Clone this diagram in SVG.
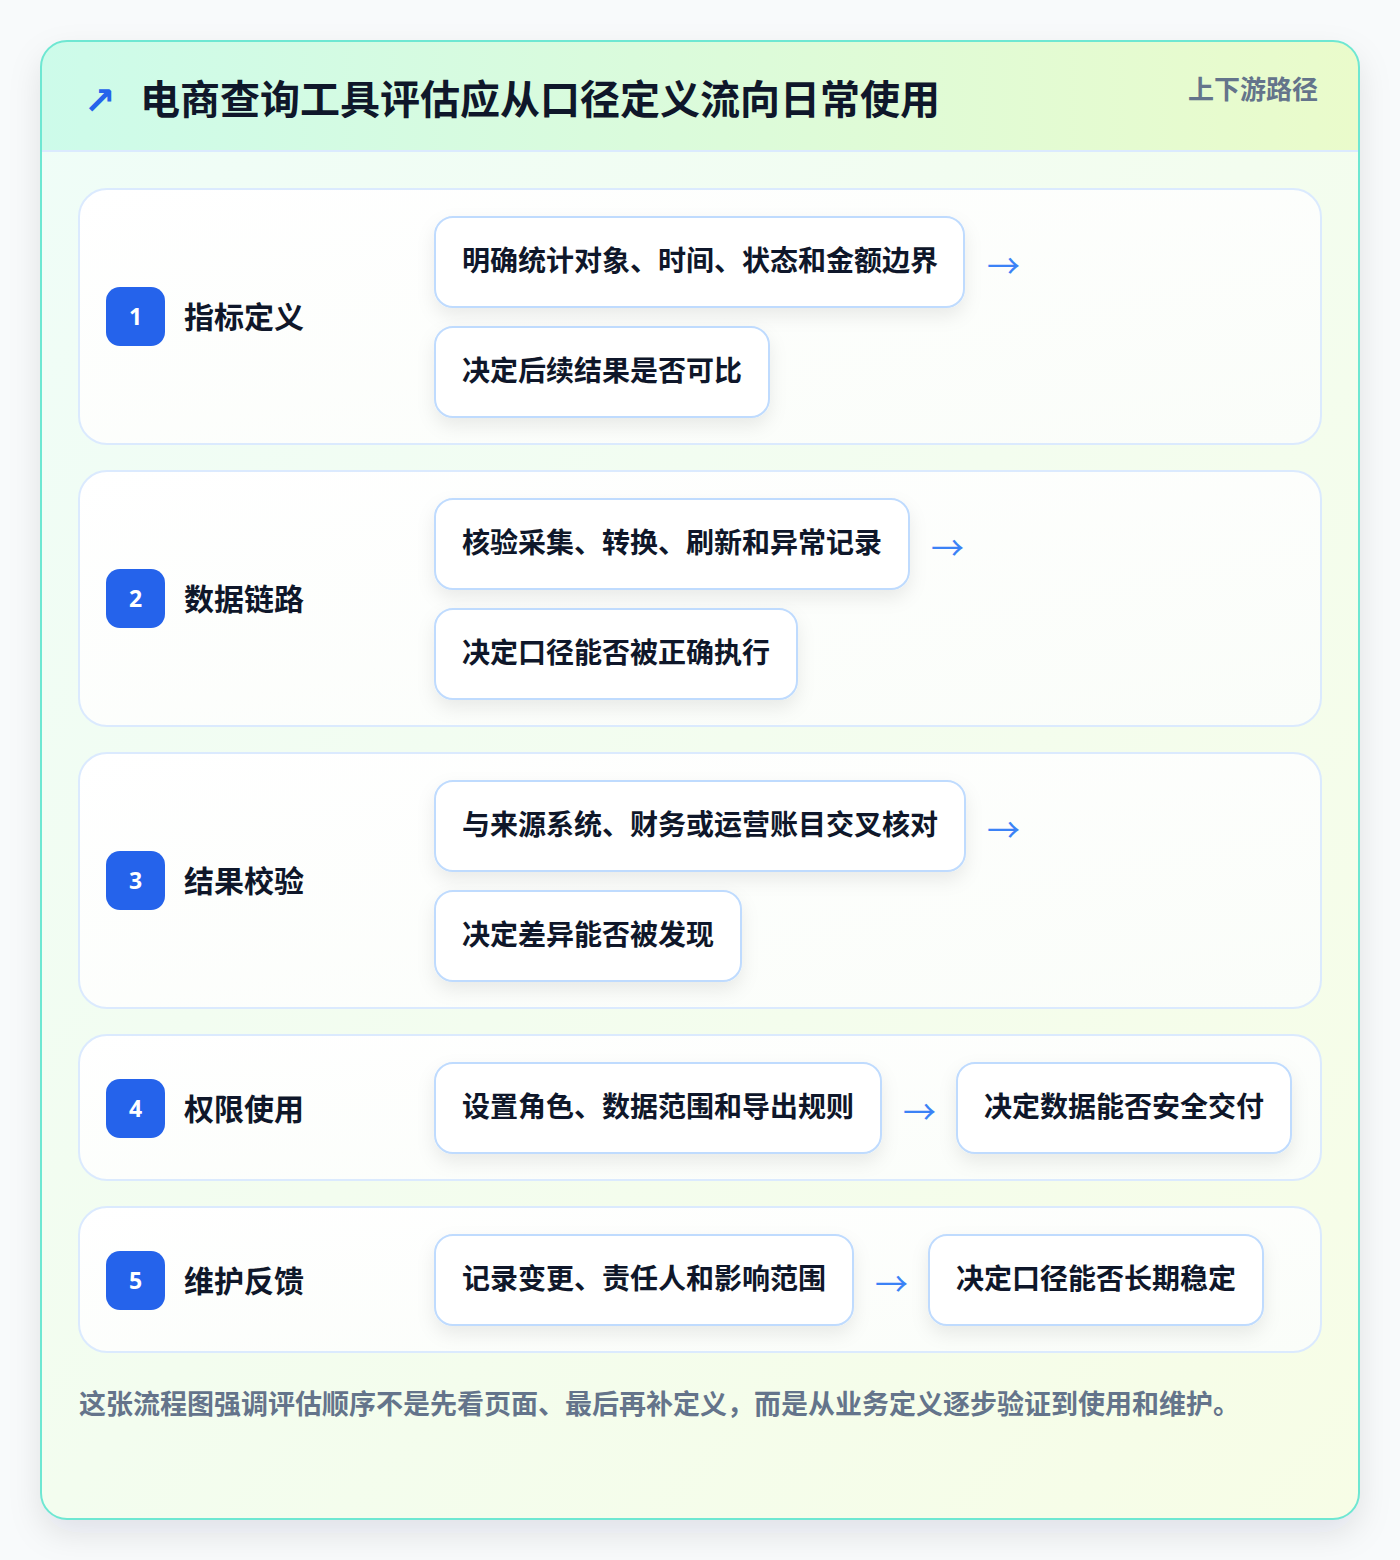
<svg xmlns="http://www.w3.org/2000/svg" width="1400" height="1560" viewBox="0 0 1400 1560">
<style>
.t{font-family:"Noto Sans CJK SC","Noto Sans",sans-serif;font-weight:700;fill:#0f172a}
.pill{fill:#ffffff;stroke:#bfdbfe;stroke-width:2}
.row{fill:url(#rowg);stroke:#dbeafe;stroke-width:2}
.badge{fill:#2563eb}
.num{font-family:"Noto Sans","Liberation Sans",sans-serif;font-weight:700;font-size:23px;fill:#ffffff}
.pt{font-size:28px}
.lbl{font-size:30px}
.arr{font-family:"Noto Sans CJK SC",sans-serif;font-size:33px;fill:#3b82f6}
</style>
<defs>
<linearGradient id="bg" x1="0" y1="0" x2="1" y2="1">
<stop offset="0" stop-color="#effdf8"/><stop offset="1" stop-color="#f7fde6"/>
</linearGradient>
<linearGradient id="hd" x1="0" y1="0" x2="1" y2="0">
<stop offset="0" stop-color="#cdfbea"/><stop offset="1" stop-color="#eafbcb"/>
</linearGradient>
<linearGradient id="rowg" x1="0" y1="0" x2="1" y2="1">
<stop offset="0" stop-color="#ffffff"/><stop offset="1" stop-color="#fafdf9"/>
</linearGradient>
<filter id="cs" x="-10%" y="-10%" width="120%" height="120%">
<feDropShadow dx="0" dy="14" stdDeviation="16" flood-color="#0f172a" flood-opacity="0.10"/>
</filter>
<filter id="ps" x="-20%" y="-30%" width="140%" height="180%">
<feDropShadow dx="0" dy="8" stdDeviation="9" flood-color="#0f172a" flood-opacity="0.08"/>
</filter>
<clipPath id="cc"><rect x="41" y="41" width="1318" height="1478" rx="26"/></clipPath>
</defs>
<rect width="1400" height="1560" fill="#f8fafb"/>
<g id="card">
<rect x="41" y="41" width="1318" height="1478" rx="26" fill="url(#bg)" filter="url(#cs)"/>
<g clip-path="url(#cc)">
<rect x="41" y="41" width="1318" height="110" fill="url(#hd)"/>
<line x1="41" y1="151" x2="1359" y2="151" stroke="#dbeafe" stroke-width="2"/>
</g>
<rect x="41" y="41" width="1318" height="1478" rx="26" fill="none" stroke="#6ee7d2" stroke-width="2"/>
<text x="84" y="114" font-family="DejaVu Sans,sans-serif" font-weight="700" font-size="38" fill="#2563eb">↗</text>
<text class="t" x="140" y="114" font-size="40">电商查询工具评估应从口径定义流向日常使用</text>
<text class="t" x="1318" y="99" font-size="26" text-anchor="end" style="fill:#64748b">上下游路径</text>
</g>
<g id="row1">
<rect class="row" x="79" y="189" width="1242" height="255" rx="28"/>
<rect class="badge" x="106" y="287" width="59" height="59" rx="14"/>
<text class="num" x="135.5" y="325" text-anchor="middle">1</text>
<text class="t lbl" x="184" y="328">指标定义</text>
</g>
<g id="row2">
<rect class="row" x="79" y="471" width="1242" height="255" rx="28"/>
<rect class="badge" x="106" y="569" width="59" height="59" rx="14"/>
<text class="num" x="135.5" y="607" text-anchor="middle">2</text>
<text class="t lbl" x="184" y="610">数据链路</text>
</g>
<g id="row3">
<rect class="row" x="79" y="753" width="1242" height="255" rx="28"/>
<rect class="badge" x="106" y="851" width="59" height="59" rx="14"/>
<text class="num" x="135.5" y="889" text-anchor="middle">3</text>
<text class="t lbl" x="184" y="892">结果校验</text>
</g>
<g id="row4">
<rect class="row" x="79" y="1035" width="1242" height="145" rx="28"/>
<rect class="badge" x="106" y="1079" width="59" height="59" rx="14"/>
<text class="num" x="135.5" y="1117" text-anchor="middle">4</text>
<text class="t lbl" x="184" y="1120">权限使用</text>
</g>
<g id="row5">
<rect class="row" x="79" y="1207" width="1242" height="145" rx="28"/>
<rect class="badge" x="106" y="1251" width="59" height="59" rx="14"/>
<text class="num" x="135.5" y="1289" text-anchor="middle">5</text>
<text class="t lbl" x="184" y="1292">维护反馈</text>
</g>
<g id="n1a"><rect class="pill" x="435" y="217" width="529" height="90" rx="18" filter="url(#ps)"/><text class="t pt" x="462" y="271">明确统计对象、时间、状态和金额边界</text></g>
<g id="n1b"><rect class="pill" x="435" y="327" width="334" height="90" rx="18" filter="url(#ps)"/><text class="t pt" x="462" y="381">决定后续结果是否可比</text></g>
<g id="n2a"><rect class="pill" x="435" y="499" width="474" height="90" rx="18" filter="url(#ps)"/><text class="t pt" x="462" y="553">核验采集、转换、刷新和异常记录</text></g>
<g id="n2b"><rect class="pill" x="435" y="609" width="362" height="90" rx="18" filter="url(#ps)"/><text class="t pt" x="462" y="663">决定口径能否被正确执行</text></g>
<g id="n3a"><rect class="pill" x="435" y="781" width="530" height="90" rx="18" filter="url(#ps)"/><text class="t pt" x="462" y="835">与来源系统、财务或运营账目交叉核对</text></g>
<g id="n3b"><rect class="pill" x="435" y="891" width="306" height="90" rx="18" filter="url(#ps)"/><text class="t pt" x="462" y="945">决定差异能否被发现</text></g>
<g id="n4a"><rect class="pill" x="435" y="1063" width="446" height="90" rx="18" filter="url(#ps)"/><text class="t pt" x="462" y="1117">设置角色、数据范围和导出规则</text></g>
<g id="n4b"><rect class="pill" x="957" y="1063" width="334" height="90" rx="18" filter="url(#ps)"/><text class="t pt" x="984" y="1117">决定数据能否安全交付</text></g>
<g id="n5a"><rect class="pill" x="435" y="1235" width="418" height="90" rx="18" filter="url(#ps)"/><text class="t pt" x="462" y="1289">记录变更、责任人和影响范围</text></g>
<g id="n5b"><rect class="pill" x="929" y="1235" width="334" height="90" rx="18" filter="url(#ps)"/><text class="t pt" x="956" y="1289">决定口径能否长期稳定</text></g>
<g id="connectors">
<text class="arr" x="987" y="278">→</text>
<text class="arr" x="931" y="560">→</text>
<text class="arr" x="987" y="842">→</text>
<text class="arr" x="903" y="1124">→</text>
<text class="arr" x="875" y="1296">→</text>
</g>
<text class="t" x="79" y="1414" font-size="27" style="fill:#64748b">这张流程图强调评估顺序不是先看页面、最后再补定义，而是从业务定义逐步验证到使用和维护。</text>
</svg>
